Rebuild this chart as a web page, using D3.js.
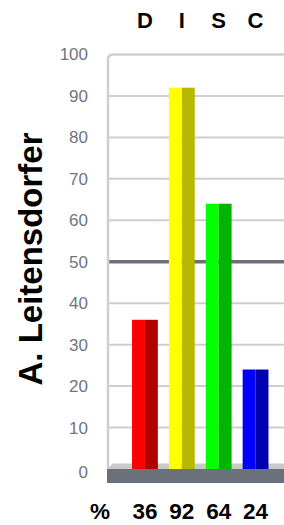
<!DOCTYPE html>
<html>
<head>
<meta charset="utf-8">
<script src="https://cdn.jsdelivr.net/npm/d3@7"></script>
<style>
  body { margin: 0; background: #fff; }
  svg { display: block; font-family: "Liberation Sans", Arial, sans-serif; }
</style>
</head>
<body>
<svg id="chart" width="284" height="525"></svg>
<script>
// DISC profile bars
var categories = ["D", "I", "S", "C"],
    values = [36, 92, 64, 24],
    lightColors = ["#ff0000", "#ffff00", "#00ff00", "#0000ff"],
    darkColors = ["#b00000", "#b8b800", "#00b400", "#0000b0"],
    yTicks = [0, 10, 20, 30, 40, 50, 60, 70, 80, 90, 100],
    personName = "A. Leitensdorfer";

var svg = d3.select("#chart"),
    left = 108, right = 284;

var y = d3.scaleLinear().domain([0, 100]).range([469, 54.5]);
var x = d3.scaleBand().domain(categories).range([126.5, 274]).paddingInner(0.3).paddingOuter(0.15);

// gridlines
svg.append("g").selectAll("line")
    .data(yTicks.filter(function (d) { return d > 0 && d < 100; }))
    .join("line")
    .attr("x1", left).attr("x2", right)
    .attr("y1", function (d) { return y(d); })
    .attr("y2", function (d) { return y(d); })
    .attr("stroke", function (d) { return d === 50 ? "#6b727c" : "#cfcfcf"; })
    .attr("stroke-width", function (d) { return d === 50 ? 3.5 : 2; });

// left + top frame with rounded corner
var r = 5;
svg.append("path")
    .attr("d", "M" + left + "," + y(0) + " L" + left + "," + (y(100) + r) +
        " Q" + left + "," + y(100) + " " + (left + r) + "," + y(100) + " L" + right + "," + y(100))
    .attr("fill", "none")
    .attr("stroke", "#cfcfcf")
    .attr("stroke-width", 2.5);

// floor
svg.append("path")
    .attr("d", "M107," + y(0) + " L113," + (y(0) - 5.5) + " L" + right + "," + (y(0) - 5.5) + " L" + right + "," + y(0) + " Z")
    .attr("fill", "#c9c9c9");
svg.append("rect")
    .attr("x", 107).attr("y", y(0))
    .attr("width", right - 107).attr("height", 14)
    .attr("fill", "#6b717b");

// bars: light and dark halves
var bars = svg.append("g").selectAll("g")
    .data(categories)
    .join("g");

bars.append("rect")
    .attr("x", function (d) { return x(d); })
    .attr("y", function (d, i) { return y(values[i]); })
    .attr("width", x.bandwidth() / 2)
    .attr("height", function (d, i) { return y(0) - y(values[i]); })
    .attr("fill", function (d, i) { return lightColors[i]; });

bars.append("rect")
    .attr("x", function (d) { return x(d) + x.bandwidth() / 2; })
    .attr("y", function (d, i) { return y(values[i]); })
    .attr("width", x.bandwidth() / 2)
    .attr("height", function (d, i) { return y(0) - y(values[i]); })
    .attr("fill", function (d, i) { return darkColors[i]; });

// y tick labels
svg.append("g").selectAll("text")
    .data(yTicks)
    .join("text")
    .attr("x", 88)
    .attr("y", function (d) { return y(d) + (d === 0 ? 3 : 0); })
    .attr("dy", "0.35em")
    .attr("text-anchor", "end")
    .attr("fill", "#6e7580")
    .style("font-size", "17px")
    .text(function (d) { return d; });

// category letters on top
svg.append("g").selectAll("text")
    .data(categories)
    .join("text")
    .attr("x", function (d) { return x(d) + x.bandwidth() / 2; })
    .attr("y", 28)
    .attr("text-anchor", "middle")
    .style("font-size", "22px")
    .style("font-weight", "bold")
    .text(function (d) { return d; });

// values at bottom
svg.append("text")
    .attr("x", 100).attr("y", 519)
    .attr("text-anchor", "middle")
    .style("font-size", "22.5px")
    .style("font-weight", "bold")
    .text("%");

svg.append("g").selectAll("text")
    .data(categories)
    .join("text")
    .attr("x", function (d) { return x(d) + x.bandwidth() / 2; })
    .attr("y", 519)
    .attr("text-anchor", "middle")
    .style("font-size", "22.5px")
    .style("font-weight", "bold")
    .text(function (d, i) { return values[i]; });

// name on the side
svg.append("text")
    .attr("transform", "translate(42,259) rotate(-90)")
    .attr("text-anchor", "middle")
    .style("font-size", "33px")
    .style("font-weight", "bold")
    .text(personName);
</script>
</body>
</html>
